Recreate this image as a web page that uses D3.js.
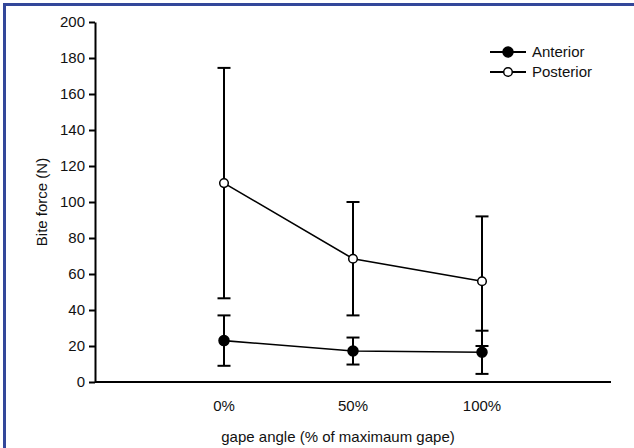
<!DOCTYPE html>
<meta charset="utf-8">
<style>
body { margin: 0; background: #fff; }
text { font-family: "Liberation Sans", Arial, sans-serif; fill: #111; }
.axis path, .axis line { stroke: #000; stroke-width: 2px; }
</style>
<body>
<script src="https://d3js.org/d3.v7.min.js"></script>
<script>
// data
var categories = ["0%", "50%", "100%"];
var anteriorMean = [23, 17.2, 16.5];
var anteriorErr = [14, 7.5, 12];
var posteriorMean = [110.5, 68.5, 56];
var posteriorErr = [64, 31.5, 36];
var yTicks = [0, 20, 40, 60, 80, 100, 120, 140, 160, 180, 200];

var W = 634, H = 448;
var svg = d3.select("body").append("svg")
    .attr("width", W)
    .attr("height", H);

// frame (top and left edges only visible)
svg.append("path")
    .attr("d", "M4.5," + H + "V4.5H" + W)
    .attr("fill", "none")
    .attr("stroke", "#33479a")
    .attr("stroke-width", 3);

// scales
var x = d3.scaleLinear().domain([-1, 3]).range([95, 611]);
var y = d3.scaleLinear().domain([0, 200]).range([382, 22]);

// y axis
var yAxis = svg.append("g")
    .attr("class", "axis")
    .attr("transform", "translate(95,0)")
    .call(d3.axisLeft(y).tickValues(yTicks).tickSize(6).tickSizeOuter(0).tickPadding(4));
yAxis.attr("font-size", 15).attr("font-family", "Liberation Sans, Arial, sans-serif");
yAxis.selectAll("text").style("font-size", "15px").attr("fill", "#111");

// x axis (line only)
svg.append("line")
    .attr("x1", x(-1)).attr("x2", x(3))
    .attr("y1", y(0)).attr("y2", y(0))
    .attr("stroke", "#000").attr("stroke-width", 2);

svg.selectAll(".xlab")
    .data(categories)
    .enter().append("text")
    .attr("class", "xlab")
    .attr("x", function(d, i) { return x(i); })
    .attr("y", 411)
    .attr("text-anchor", "middle")
    .style("font-size", "15px")
    .text(function(d) { return d; });

// axis titles
svg.append("text")
    .attr("transform", "translate(47," + y(100) + ") rotate(-90)")
    .attr("text-anchor", "middle")
    .style("font-size", "15px")
    .text("Bite force (N)");

svg.append("text")
    .attr("x", 338)
    .attr("y", 442)
    .attr("text-anchor", "middle")
    .style("font-size", "15px")
    .text("gape angle (% of maximaum gape)");

function drawSeries(mean, err, fill) {
    var g = svg.append("g");
    var pts = mean.map(function(m, i) { return { i: i, m: m, e: err[i] }; });

    // error bars
    var eb = g.selectAll(".eb").data(pts).enter().append("g");
    eb.append("line")
        .attr("x1", function(d) { return x(d.i); })
        .attr("x2", function(d) { return x(d.i); })
        .attr("y1", function(d) { return y(d.m - d.e); })
        .attr("y2", function(d) { return y(d.m + d.e); })
        .attr("stroke", "#000").attr("stroke-width", 2);
    [-1, 1].forEach(function(s) {
        eb.append("line")
            .attr("x1", function(d) { return x(d.i) - 6.5; })
            .attr("x2", function(d) { return x(d.i) + 6.5; })
            .attr("y1", function(d) { return y(d.m + s * d.e); })
            .attr("y2", function(d) { return y(d.m + s * d.e); })
            .attr("stroke", "#000").attr("stroke-width", 2);
    });

    // connecting line
    g.append("path")
        .datum(pts)
        .attr("fill", "none")
        .attr("stroke", "#000")
        .attr("stroke-width", 1.6)
        .attr("d", d3.line()
            .x(function(d) { return x(d.i); })
            .y(function(d) { return y(d.m); }));

    g.selectAll("circle").data(pts).enter().append("circle")
        .attr("cx", function(d) { return x(d.i); })
        .attr("cy", function(d) { return y(d.m); })
        .attr("r", fill === "#000" ? 5 : 4.3)
        .attr("fill", fill)
        .attr("stroke", "#000")
        .attr("stroke-width", 1.5);
}

drawSeries(posteriorMean, posteriorErr, "#fff");
drawSeries(anteriorMean, anteriorErr, "#000");

// legend
var legend = [
    { name: "Anterior", fill: "#000", r: 5 },
    { name: "Posterior", fill: "#fff", r: 4.3 }
];
var lg = svg.selectAll(".lg").data(legend).enter().append("g")
    .attr("transform", function(d, i) { return "translate(490," + (52 + i * 20) + ")"; });
lg.append("line")
    .attr("x1", 0).attr("x2", 36)
    .attr("stroke", "#000").attr("stroke-width", 2);
lg.append("circle")
    .attr("cx", 18).attr("r", function(d) { return d.r; })
    .attr("fill", function(d) { return d.fill; })
    .attr("stroke", "#000").attr("stroke-width", 1.5);
lg.append("text")
    .attr("x", 42).attr("y", 5)
    .style("font-size", "15px")
    .text(function(d) { return d.name; });
</script>
</body>
